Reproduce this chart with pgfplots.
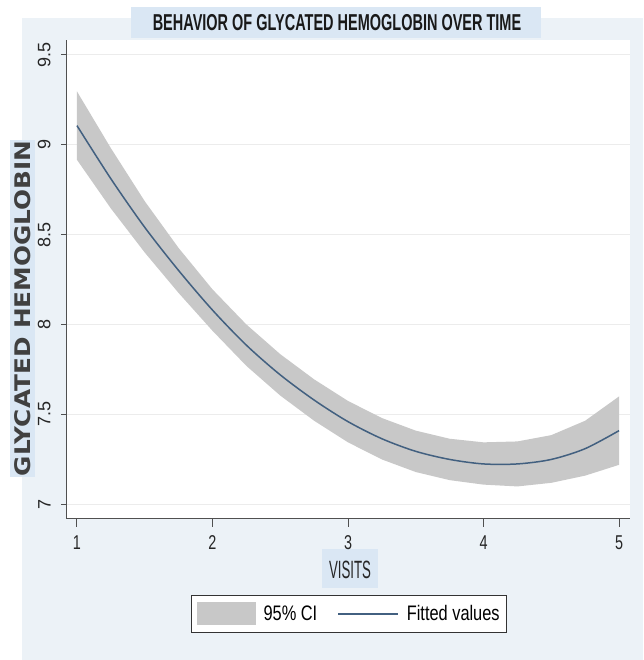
\documentclass[border=0pt]{standalone}
\usepackage{pgfplots}
\pgfplotsset{compat=1.18}
\usepackage{pgfplotstable}
\usepackage{fontspec}
\setmainfont{Liberation Sans}
\newfontfamily\condfont{Liberation Sans}[FakeStretch=0.78]
\newfontfamily\tickfont{Liberation Sans}[FakeStretch=0.72]
\newfontfamily\visfont{Liberation Sans}[FakeStretch=0.53]
\newfontfamily\titlefont{Liberation Sans}[FakeStretch=0.63]
\newfontfamily\widefont{DejaVu Sans}[FakeStretch=1.15]
\definecolor{bgcol}{RGB}{236,242,247}
\definecolor{boxcol}{RGB}{218,231,244}
\definecolor{bandcol}{RGB}{200,200,200}
\definecolor{fitcol}{RGB}{66,96,128}
\definecolor{gridcol}{RGB}{236,236,236}
\definecolor{axcol}{RGB}{80,80,80}
\pgfdeclarelayer{bglayer}
\pgfplotsset{layers/mylayers/.define layer set={bglayer,axis background,axis grid,axis ticks,axis lines,axis tick labels,pre main,main,axis descriptions,axis foreground}{}}

% fitted values
\pgfplotstableread{
x     fit
1.00  9.105
1.25  8.810
1.50  8.540
1.75  8.300
2.00  8.080
2.25  7.885
2.50  7.720
2.75  7.580
3.00  7.460
3.25  7.365
3.50  7.295
3.75  7.250
4.00  7.225
4.25  7.225
4.50  7.250
4.75  7.310
5.00  7.410
}\fitdata

% 95% CI band: upper bound left to right, then lower bound right to left
\pgfplotstableread{
x     y
1.00  9.295
1.25  8.980
1.50  8.685
1.75  8.425
2.00  8.195
2.25  8.000
2.50  7.835
2.75  7.695
3.00  7.575
3.25  7.480
3.50  7.410
3.75  7.365
4.00  7.345
4.25  7.350
4.50  7.385
4.75  7.465
5.00  7.600
5.00  7.220
4.75  7.160
4.50  7.120
4.25  7.100
4.00  7.110
3.75  7.135
3.50  7.180
3.25  7.250
3.00  7.345
2.75  7.465
2.50  7.605
2.25  7.770
2.00  7.965
1.75  8.175
1.50  8.400
1.25  8.645
1.00  8.915
}\banddata

\begin{document}
\begin{tikzpicture}
\coordinate (p0) at (0pt,0pt);
\coordinate (p1) at (643pt,660pt);
\coordinate (b0) at (22pt,0pt);
\coordinate (b1) at (643pt,642pt);
\coordinate (t0) at (131pt,622pt);
\coordinate (t1) at (541pt,653pt);
\coordinate (y0) at (10pt,183pt);
\coordinate (y1) at (35pt,520pt);
\coordinate (v0) at (322pt,72pt);
\coordinate (v1) at (378pt,111pt);
\node[font=\titlefont\bfseries\fontsize{23}{23}\selectfont, text=black!90] at (337pt,637pt) {BEHAVIOR OF GLYCATED HEMOGLOBIN OVER TIME};
\node[rotate=90, font=\widefont\bfseries\fontsize{21.5}{21.5}\selectfont, text=black!75] at (22.5pt,351.5pt) {GLYCATED HEMOGLOBIN};
\node[font=\visfont\fontsize{25}{25}\selectfont, text=black!85] at (350pt,90pt) {VISITS};
\begin{axis}[
  set layers=mylayers,
  clip=false,
  at={(66pt,141pt)}, anchor=south west,
  scale only axis, width=564pt, height=479pt,
  xmin=0.919, xmax=5.081, ymin=6.919, ymax=9.581,
  axis background/.style={fill=white},
  axis x line*=bottom, axis y line*=left,
  axis line style={axcol, line width=1pt},
  xtick={1,2,3,4,5}, ytick={7,7.5,8,8.5,9,9.5},
  ymajorgrids, grid style={gridcol, line width=1pt},
  tick align=outside,
  tick style={axcol, line width=1pt},
  xtick style={/pgfplots/major tick length=8pt},
  ytick style={/pgfplots/major tick length=5pt},
  /pgf/number format/assume math mode=true,
  xticklabel style={font=\tickfont\fontsize{20}{20}\selectfont, text=black!85, yshift=-9pt},
  yticklabel style={rotate=90, anchor=south, inner sep=11pt, font=\fontsize{18}{18}\selectfont, text=black!85},
  legend style={at={(0.502,-0.198)}, anchor=center, legend columns=2,
    draw=black!80, line width=1pt, fill=white, inner xsep=5pt, inner ysep=7pt,
    font=\condfont\fontsize{21}{21}\selectfont,
    /tikz/every odd column/.append style={column sep=6pt},
    /tikz/every even column/.append style={column sep=18pt}},
  legend cell align=left,
]
\begin{pgfonlayer}{bglayer}
\fill[white] (p0) rectangle (p1);
\fill[bgcol] (b0) rectangle (b1);
\fill[boxcol] (t0) rectangle (t1);
\fill[boxcol] (y0) rectangle (y1);
\fill[boxcol] (v0) rectangle (v1);
\end{pgfonlayer}
\addplot[fill=bandcol, draw=none,
  legend image code/.code={\fill[bandcol] (0pt,-11.5pt) rectangle (59pt,11.5pt);}]
  table[x=x,y=y]{\banddata} -- cycle;
\addlegendentry{95\% CI}
\addplot[fitcol, line width=1.5pt, smooth,
  legend image code/.code={\draw[fitcol, line width=1.5pt] (0pt,0pt) -- (60pt,0pt);}]
  table[x=x,y=fit]{\fitdata};
\addlegendentry{Fitted values}
\end{axis}
\end{tikzpicture}
\end{document}
